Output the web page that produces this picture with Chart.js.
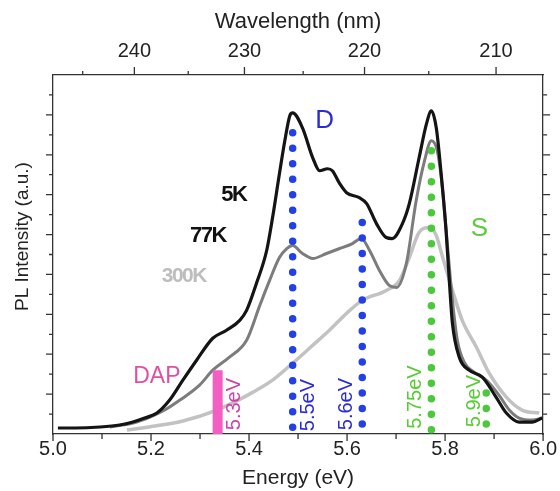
<!DOCTYPE html>
<html>
<head>
<meta charset="utf-8">
<script src="https://cdn.jsdelivr.net/npm/chart.js@4.4.1/dist/chart.umd.min.js"></script>
<style>
  html, body { margin: 0; padding: 0; background: #fff; }
  #plChart { display: block; }
</style>
</head>
<body>
<canvas id="plChart" width="560" height="491"></canvas>
<script>
// PL spectra at 5K / 77K / 300K, energy below, wavelength on top

const energy5K = [5.010, 5.045, 5.096, 5.136, 5.163, 5.187, 5.212, 5.238, 5.265, 5.293, 5.326, 5.354, 5.381, 5.395, 5.415, 5.436, 5.448, 5.462, 5.473, 5.483, 5.489, 5.509, 5.530, 5.544, 5.560, 5.570, 5.585, 5.599, 5.625, 5.640, 5.660, 5.680, 5.692, 5.713, 5.727, 5.747, 5.762, 5.772, 5.782, 5.792, 5.802, 5.809, 5.815, 5.829, 5.849, 5.876, 5.904, 5.925, 5.951, 5.978, 5.998];
const intensity5K = [0.30, 0.30, 0.35, 0.45, 0.60, 0.80, 1.05, 1.70, 2.70, 3.70, 4.80, 5.20, 5.70, 6.20, 7.55, 9.20, 10.85, 13.05, 14.70, 15.95, 16.10, 15.35, 13.85, 13.20, 13.30, 13.20, 12.55, 12.10, 11.85, 11.55, 10.55, 9.85, 9.80, 10.55, 11.55, 13.85, 15.55, 16.20, 15.35, 13.05, 10.20, 7.55, 5.55, 3.85, 3.20, 2.85, 1.85, 1.05, 0.60, 0.60, 0.80];

const energy77K = [5.116, 5.163, 5.198, 5.228, 5.259, 5.299, 5.326, 5.360, 5.395, 5.422, 5.442, 5.462, 5.477, 5.489, 5.509, 5.530, 5.558, 5.585, 5.611, 5.629, 5.646, 5.666, 5.686, 5.701, 5.721, 5.741, 5.758, 5.772, 5.784, 5.794, 5.804, 5.815, 5.825, 5.839, 5.859, 5.884, 5.910, 5.931, 5.951, 5.978, 5.998];
const intensity77K = [0.35, 0.55, 0.85, 1.20, 1.70, 2.45, 3.20, 3.85, 4.70, 6.45, 7.70, 8.85, 9.30, 9.45, 9.05, 8.80, 9.05, 9.30, 9.55, 9.80, 9.20, 8.20, 7.45, 7.35, 8.55, 11.70, 13.70, 14.70, 14.20, 12.45, 9.70, 6.70, 4.70, 3.60, 3.10, 2.70, 1.95, 1.20, 0.80, 0.70, 0.80];

const energy300K = [5.151, 5.208, 5.265, 5.334, 5.401, 5.448, 5.489, 5.530, 5.564, 5.599, 5.631, 5.680, 5.707, 5.727, 5.747, 5.768, 5.782, 5.794, 5.815, 5.835, 5.864, 5.890, 5.925, 5.957, 5.992];
const intensity300K = [0.20, 0.40, 0.65, 1.20, 2.00, 2.70, 3.55, 4.45, 5.20, 6.05, 6.70, 7.20, 7.70, 8.85, 10.10, 10.35, 9.95, 8.95, 7.20, 5.70, 4.35, 3.05, 1.85, 1.20, 1.05];

// dotted marker columns (D and S lines) and the DAP bar
const peakEnergies = [5.489, 5.631, 5.772, 5.884];
const peakTops = [15.1, 10.6, 14.2, 2.05];
const peakBottom = 0.2;
const dapEnergy = 5.336;
const dapTop = 3.2;

const wavelengthTicks = [245, 240, 235, 230, 225, 220, 215, 210];

const FONT = '"Liberation Sans", Arial, sans-serif';
const toPoints = (xs, ys) => xs.map((x, i) => ({ x: x, y: ys[i] }));

const peakColors = ['#2340e8', '#2340e8', '#4cc83c', '#4cc83c'];

const datasets = [];
peakEnergies.forEach((e, i) => {
    datasets.push({
        data: [{ x: e, y: peakTops[i] }, { x: e, y: peakBottom }],
        borderColor: peakColors[i],
        borderWidth: 7.5,
        borderDash: [0, 15.5],
        borderCapStyle: 'round',
        pointRadius: 0,
        order: 0
    });
});
datasets.push({
    data: [{ x: dapEnergy, y: dapTop }, { x: dapEnergy, y: 0 }],
    borderColor: '#f35ec3',
    borderWidth: 10,
    borderCapStyle: 'butt',
    pointRadius: 0,
    order: 1
});
datasets.push({ label: '5K', data: toPoints(energy5K, intensity5K), borderColor: '#141414', borderWidth: 3.2, pointRadius: 0, cubicInterpolationMode: 'monotone', order: 2 });
datasets.push({ label: '77K', data: toPoints(energy77K, intensity77K), borderColor: '#7c7c7c', borderWidth: 3, pointRadius: 0, cubicInterpolationMode: 'monotone', order: 3 });
datasets.push({ label: '300K', data: toPoints(energy300K, intensity300K), borderColor: '#c2c2c2', borderWidth: 3.5, pointRadius: 0, cubicInterpolationMode: 'monotone', order: 4 });

const notes = [
    { text: '5K', x: 5.369, y: 12.0, color: '#111', font: 'bold 22px ' + FONT, spacing: '-1.5px' },
    { text: '77K', x: 5.316, y: 9.95, color: '#111', font: 'bold 22px ' + FONT, spacing: '-1.5px' },
    { text: '300K', x: 5.267, y: 7.9, color: '#bdbdbd', font: 'bold 21px ' + FONT, spacing: '-1.5px' },
    { text: 'D', x: 5.554, y: 15.7, color: '#2b2bd6', font: '26px ' + FONT },
    { text: 'S', x: 5.870, y: 10.3, color: '#5fc93f', font: '26px ' + FONT },
    { text: 'DAP', x: 5.212, y: 2.9, color: '#e0509f', font: '23px ' + FONT },
    { text: '5.3eV', x: 5.371, y: 1.5, color: '#d040a8', font: '20px ' + FONT, rotate: true },
    { text: '5.5eV', x: 5.521, y: 1.45, color: '#2b2bd6', font: '20px ' + FONT, rotate: true },
    { text: '5.6eV', x: 5.599, y: 1.5, color: '#2b2bd6', font: '20px ' + FONT, rotate: true },
    { text: '5.75eV', x: 5.739, y: 1.85, color: '#55cc33', font: '20px ' + FONT, rotate: true },
    { text: '5.9eV', x: 5.859, y: 1.65, color: '#55cc33', font: '20px ' + FONT, rotate: true }
];

// labels inside the plot + the y title
const notePlugin = {
    id: 'notes',
    afterDatasetsDraw(chart) {
        const { ctx, scales } = chart;
        ctx.save();
        ctx.textAlign = 'center';
        ctx.textBaseline = 'middle';
        notes.forEach(n => {
            const px = scales.x.getPixelForValue(n.x);
            const py = scales.y.getPixelForValue(n.y);
            ctx.font = n.font;
            ctx.fillStyle = n.color;
            ctx.letterSpacing = n.spacing || '0px';
            ctx.save();
            ctx.translate(px, py);
            if (n.rotate) ctx.rotate(-Math.PI / 2);
            ctx.fillText(n.text, 0, 0);
            ctx.restore();
        });
        ctx.letterSpacing = '0px';
        ctx.font = '19px ' + FONT;
        ctx.fillStyle = '#222';
        ctx.translate(chart.chartArea.left - 30, scales.y.getPixelForValue(9.9));
        ctx.rotate(-Math.PI / 2);
        ctx.fillText('PL Intensity (a.u.)', 0, 0);
        ctx.restore();
    }
};

// major / minor tick marks on all four sides
const tickPlugin = {
    id: 'tickMarks',
    afterDraw(chart) {
        const { ctx, chartArea: a, scales } = chart;
        ctx.save();
        ctx.strokeStyle = '#333';
        ctx.lineWidth = 1.3;
        ctx.beginPath();
        scales.x.ticks.forEach(t => {
            const px = scales.x.getPixelForValue(t.value);
            const len = t.label ? 7 : 5;
            ctx.moveTo(px, a.bottom);
            ctx.lineTo(px, a.bottom + len);
        });
        scales.x2.ticks.forEach(t => {
            const px = scales.x2.getPixelForValue(t.value);
            const len = t.label ? 8 : 4;
            ctx.moveTo(px, a.top);
            ctx.lineTo(px, a.top - len);
        });
        scales.y.ticks.forEach(t => {
            const v = Math.round(t.value);
            if (v <= 0 || v >= 18) return;
            const py = scales.y.getPixelForValue(t.value);
            const len = v % 2 === 0 ? 7 : 4;
            ctx.moveTo(a.left, py);
            ctx.lineTo(a.left - len, py);
            ctx.moveTo(a.right, py);
            ctx.lineTo(a.right + len, py);
        });
        ctx.stroke();
        ctx.restore();
    }
};

const axisBorder = { display: true, color: '#333', width: 1.3 };

new Chart(document.getElementById('plChart'), {
    type: 'line',
    data: { datasets: datasets },
    options: {
        responsive: false,
        animation: false,
        devicePixelRatio: 1,
        layout: { padding: 0 },
        plugins: { legend: { display: false }, tooltip: { enabled: false } },
        scales: {
            x: {
                type: 'linear',
                position: 'bottom',
                min: 5.0,
                max: 6.0,
                grid: { drawOnChartArea: false, drawTicks: false },
                border: axisBorder,
                ticks: {
                    stepSize: 0.1,
                    padding: 3,
                    maxRotation: 0,
                    autoSkip: false,
                    color: '#222',
                    font: { family: FONT, size: 20 },
                    callback: v => Math.round(v * 10) % 2 === 0 ? v.toFixed(1) : ''
                },
                title: {
                    display: true,
                    text: 'Energy (eV)',
                    color: '#222',
                    font: { family: FONT, size: 21 },
                    padding: { top: 0, bottom: 0 }
                },
                afterFit: scale => { scale.height = 57; }
            },
            x2: {
                type: 'linear',
                position: 'top',
                min: 5.0,
                max: 6.0,
                grid: { drawOnChartArea: false, drawTicks: false },
                border: axisBorder,
                afterBuildTicks: scale => {
                    scale.ticks = wavelengthTicks.map(w => ({ value: 1239.84 / w }));
                },
                ticks: {
                    padding: 12,
                    maxRotation: 0,
                    autoSkip: false,
                    color: '#222',
                    font: { family: FONT, size: 20 },
                    callback: v => {
                        const w = Math.round(1239.84 / v);
                        return w % 10 === 0 ? String(w) : '';
                    }
                },
                title: {
                    display: true,
                    text: 'Wavelength (nm)',
                    color: '#222',
                    font: { family: FONT, size: 22 },
                    padding: { top: 9, bottom: 0 }
                },
                afterFit: scale => { scale.height = 75; }
            },
            y: {
                type: 'linear',
                position: 'left',
                min: 0,
                max: 18,
                grid: { drawOnChartArea: false, drawTicks: false },
                border: axisBorder,
                ticks: { display: false, stepSize: 1 },
                afterFit: scale => { scale.width = 53; }
            },
            y2: {
                type: 'linear',
                position: 'right',
                min: 0,
                max: 18,
                grid: { drawOnChartArea: false, drawTicks: false },
                border: axisBorder,
                ticks: { display: false, stepSize: 1 },
                afterFit: scale => { scale.width = 16; }
            }
        }
    },
    plugins: [notePlugin, tickPlugin]
});
</script>
</body>
</html>
